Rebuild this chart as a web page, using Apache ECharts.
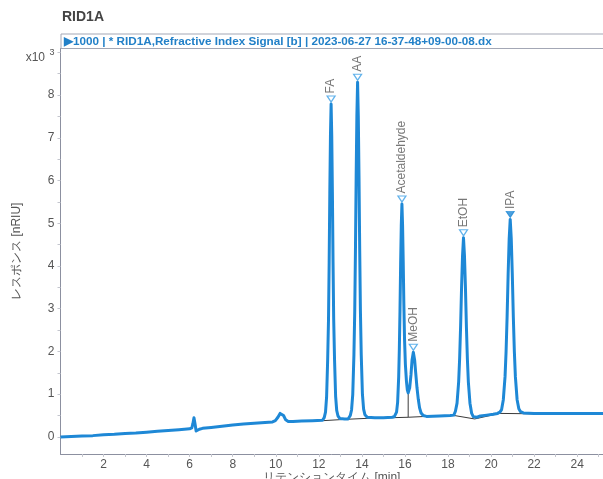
<!DOCTYPE html>
<html><head><meta charset="utf-8">
<script src="https://cdn.jsdelivr.net/npm/echarts@6/dist/echarts.min.js"></script>
<style>html,body{margin:0;padding:0;background:#fff}#c{width:603px;height:479px}</style>
</head><body><div id="c"></div>
<script>
// ---- data (time [min], response [x10^3 nRIU]) ----
const baselineEarly = [[0,0.00],[0.5,0.01],[1,0.02],[1.5,0.03],[2,0.05],[2.5,0.06],[3,0.08],[3.5,0.09],[4,0.11],[4.5,0.13],[5,0.15],[5.5,0.17],[6,0.19],[6.1,0.21],[6.15,0.31],[6.2,0.45],[6.25,0.30],[6.3,0.14],[6.36,0.13],[6.45,0.18],[6.6,0.20],[7,0.22],[7.5,0.25],[8,0.28],[8.5,0.30],[9,0.32],[9.5,0.34],[9.85,0.35],[9.98,0.38],[10.1,0.46],[10.2,0.55],[10.28,0.56],[10.36,0.50],[10.46,0.40],[10.58,0.36],[10.8,0.36],[11.2,0.37],[11.7,0.38],[12.17,0.39]];
const peakFA = [[12.25,0.45],[12.31,0.58],[12.36,0.93],[12.41,1.80],[12.45,2.76],[12.48,4.09],[12.51,5.72],[12.54,7.05],[12.57,7.79],[12.60,7.05],[12.63,5.72],[12.66,4.09],[12.69,2.76],[12.73,1.80],[12.78,0.95],[12.83,0.62],[12.89,0.49],[12.98,0.43],[13.2,0.42]];
const peakAA = [[13.36,0.42],[13.46,0.50],[13.52,0.63],[13.575,0.99],[13.63,1.92],[13.668,2.94],[13.701,4.36],[13.734,6.09],[13.767,7.51],[13.80,8.30],[13.833,7.51],[13.866,6.09],[13.899,4.36],[13.932,2.94],[13.97,1.92],[14.025,1.00],[14.08,0.65],[14.14,0.52],[14.25,0.46],[14.6,0.45],[15.0,0.45]];
const peakAcetMeOH = [[15.4,0.46],[15.5,0.47],[15.56,0.51],[15.61,0.58],[15.66,0.81],[15.71,1.41],[15.74,2.06],[15.77,2.96],[15.80,4.05],[15.83,4.95],[15.86,5.45],[15.89,4.95],[15.92,4.10],[15.95,3.10],[15.98,2.30],[16.02,1.70],[16.07,1.30],[16.11,1.10],[16.15,1.03],[16.22,1.15],[16.28,1.45],[16.33,1.80],[16.39,1.98],[16.45,1.80],[16.50,1.50],[16.56,1.15],[16.62,0.88],[16.68,0.68],[16.75,0.56],[16.85,0.50],[17.0,0.48],[17.6,0.49],[18.1,0.50]];
const peakEtOH = [[18.27,0.51],[18.345,0.60],[18.42,0.79],[18.495,1.29],[18.54,1.83],[18.585,2.58],[18.63,3.50],[18.675,4.24],[18.72,4.66],[18.765,4.24],[18.81,3.50],[18.855,2.58],[18.90,1.83],[18.945,1.29],[19.02,0.79],[19.10,0.55],[19.18,0.47],[19.26,0.43],[19.35,0.46],[19.5,0.49],[19.8,0.51],[20.1,0.53],[20.3,0.55]];
const peakIPA = [[20.41,0.58],[20.49,0.64],[20.57,0.87],[20.65,1.41],[20.698,2.00],[20.746,2.82],[20.794,3.82],[20.842,4.64],[20.89,5.09],[20.938,4.64],[20.986,3.82],[21.034,2.82],[21.082,2.00],[21.13,1.41],[21.21,0.87],[21.29,0.66],[21.37,0.59],[21.5,0.56],[22.0,0.55],[25.2,0.55]];

const integrationBaseline = [[12.2,0.38],[13.2,0.41],[14.5,0.44],[15.45,0.45],[16.15,0.46],[17.0,0.48],[18.3,0.50],[19.24,0.42],[20.4,0.55],[22.1,0.54]];
const dropLine = [[16.15,1.03],[16.15,0.46]];

const peakNames = ['FA','AA','Acetaldehyde','MeOH','EtOH','IPA'];
const peakTimes = [12.57,13.80,15.86,16.39,18.72,20.89];
const peakHeights = [7.79,8.30,5.45,1.98,4.66,5.09];
const peakFilled = [false,false,false,false,false,true];

const xLabelValues = [2,4,6,8,10,12,14,16,18,20,22,24];
const xTickValues = [1,2,3,4,5,6,7,8,9,10,11,12,13,14,15,16,17,18,19,20,21,22,23,24,25];
const yLabelValues = [0,1,2,3,4,5,6,7,8,9];
const yTickValues = [0,0.5,1,1.5,2,2.5,3,3.5,4,4.5,5,5.5,6,6.5,7,7.5,8,8.5,9];

const signal = [].concat(baselineEarly, peakFA, peakAA, peakAcetMeOH, peakEtOH, peakIPA);

const blue = '#1e88d6';
const markerBlue = '#3a9fe6';
const axisGray = '#8c90a0';
const tickGray = '#c4c6ce';
const textGray = '#555';
const font = '"Liberation Sans", Arial, sans-serif';

const chart = echarts.init(document.getElementById('c'), null, {renderer:'canvas'});
chart.setOption({
  animation: false,
  backgroundColor: '#fff',
  textStyle: {fontFamily: font},
  grid: {left: 60.5, top: 48.5, right: 0, bottom: 25, containLabel: false, outerBoundsMode: 'none'},
  xAxis: {
    type: 'value', min: 0, max: 25.2,
    axisLine: {show: true, onZero: false, lineStyle: {color: axisGray, width: 1}},
    axisTick: {show: true, customValues: xTickValues, length: 3, lineStyle: {color: tickGray}},
    axisLabel: {customValues: xLabelValues, color: textGray, fontSize: 12, margin: 5, fontFamily: font},
    splitLine: {show: false},
    name: 'リテンションタイム [min]', nameLocation: 'middle', nameGap: 18, nameMoveOverlap: false,
    nameTextStyle: {color: textGray, fontSize: 12, fontFamily: font}
  },
  yAxis: {
    type: 'value', min: -0.4, max: 9.09,
    axisLine: {show: true, onZero: false, lineStyle: {color: axisGray, width: 1}},
    axisTick: {show: true, customValues: yTickValues, length: 3, lineStyle: {color: tickGray}},
    axisLabel: {customValues: yLabelValues, color: textGray, fontSize: 12, margin: 6, fontFamily: font,
      formatter: function(v){ return v === 9 ? '{s|3}' : String(v); },
      rich: {s: {fontSize: 9, color: textGray, fontFamily: font}}},
    splitLine: {show: false},
    name: 'レスポンス [nRIU]', nameLocation: 'middle', nameGap: 38, nameMoveOverlap: false,
    nameTextStyle: {color: textGray, fontSize: 12, fontFamily: font}
  },
  graphic: [
    {type: 'text', left: 62, top: 10, style: {text: 'RID1A', font: 'bold 14px "Liberation Sans", Arial', fill: '#444'}},
    {type: 'rect', shape: {x: 61, y: 34, width: 560, height: 14.5}, style: {fill: '#fff', stroke: '#a3a7b5', lineWidth: 1}, z: 10},
    {type: 'text', x: 64, y: 41.5, z: 11, style: {text: '▶1000 | * RID1A,Refractive Index Signal [b] | 2023-06-27 16-37-48+09-00-08.dx', font: 'bold 11.7px "Liberation Sans", Arial', fill: '#2280c8', verticalAlign: 'middle'}},
    {type: 'text', x: 45, y: 57.5, style: {text: 'x10', font: '12px "Liberation Sans", Arial', fill: textGray, align: 'right', verticalAlign: 'middle'}}
  ],
  series: [
    {type: 'line', data: integrationBaseline, symbol: 'none', lineStyle: {color: '#3a3a3a', width: 1}, z: 1, silent: true},
    {type: 'line', data: dropLine, symbol: 'none', lineStyle: {color: '#3a3a3a', width: 1}, z: 1, silent: true},
    {type: 'line', data: signal, symbol: 'none', smooth: false, lineStyle: {color: blue, width: 3, join: 'round'}, z: 2, silent: true},
    {type: 'scatter', z: 3,
      data: peakNames.map(function(n, i){
        return {name: n, value: [peakTimes[i], peakHeights[i]],
          itemStyle: peakFilled[i] ? {color: blue, borderColor: blue, borderWidth: 1} : {color: '#fff', borderColor: markerBlue, borderWidth: 1.2}};
      }),
      symbol: 'triangle', symbolRotate: 180, symbolSize: [8, 6], symbolOffset: [0, -5],
      label: {show: true, formatter: '{b}', position: 'top', distance: 2, rotate: 90, align: 'left', verticalAlign: 'middle', color: textGray, fontSize: 12, fontFamily: font}
    }
  ]
});
</script></body></html>
